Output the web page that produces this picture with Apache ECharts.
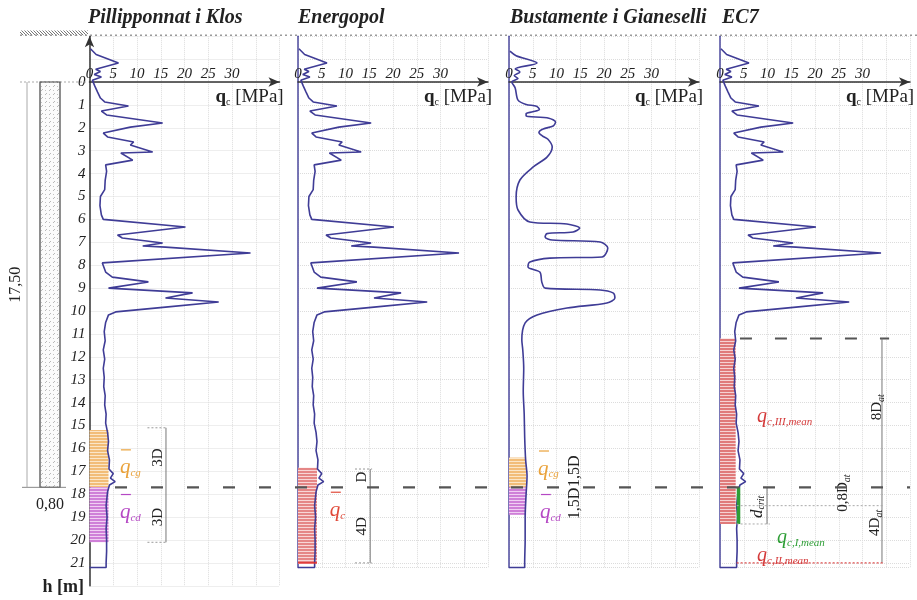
<!DOCTYPE html>
<html><head><meta charset="utf-8">
<script src="https://cdn.jsdelivr.net/npm/echarts@6/dist/echarts.min.js"></script>
<style>html,body{margin:0;padding:0;background:#fff}#c{width:917px;height:600px}</style>
</head><body><div id="c"></div>
<script>
// ---------------- data ----------------
const panelTitles = ['Pillipponnat i Klos', 'Energopol', 'Bustamente i Gianeselli', 'EC7'];
const depthTicks = [0,1,2,3,4,5,6,7,8,9,10,11,12,13,14,15,16,17,18,19,20,21];
const qcTicks = [0,5,10,15,20,25,30];
// measured CPT profile [qc MPa, depth m]
const qcRaw = [
[0.2,-1.45],[1.4,-1.2],[6.1,-0.83],[1.3,-0.56],[2.3,-0.46],[1.0,-0.33],[2.5,-0.22],[0.6,-0.08],
[1.1,0.17],[1.7,0.44],[2.3,0.70],[3.2,0.87],[8.2,1.05],[2.5,1.27],[3.6,1.44],[15.4,1.79],
[8.6,1.97],[2.9,2.23],[3.8,2.40],[9.3,2.62],[8.6,2.75],[13.3,3.06],[6.6,3.10],[9.1,3.41],[3.4,3.62],
[3.6,3.9],[3.3,4.3],[3.2,4.7],[2.3,5.0],[2.2,5.4],[2.5,5.8],[2.9,6.0],[20.2,6.33],[5.9,6.68],
[6.9,6.81],[15.4,7.03],[11.2,7.16],[16.0,7.21],[33.9,7.47],[2.7,7.90],[3.4,8.30],[4.8,8.52],
[12.4,8.73],[4.0,9.00],[21.7,9.21],[16.0,9.43],[27.2,9.61],[16.0,9.83],[5.5,10.04],[4.0,10.17],
[3.4,10.5],[3.1,10.9],[3.3,11.3],[2.9,11.7],[3.2,12.1],[2.9,12.5],[3.1,12.9],[3.0,13.3],[3.3,13.7],
[3.2,14.1],[3.5,14.5],[3.4,14.9],[3.8,15.3],[4.0,15.7],[3.8,16.1],[4.2,16.5],[4.1,16.9],[5.0,17.1],
[4.4,17.3],[5.4,17.45],[4.2,17.6],[3.8,17.9],[3.5,18.5],[3.7,19.0],[3.5,19.5],[3.6,20.0],[3.6,20.5],
[3.5,21.0],[3.5,21.2],[0,21.2]
];
// smoothed profile (Bustamente i Gianeselli)
const qcSmooth = [
[0.2,-1.35],[1.5,-1.15],[5.9,-0.83],[1.3,-0.57],[2.3,-0.44],[1.1,-0.28],[1.9,-0.15],[0.6,0],
[1.3,0.26],[1.9,0.79],[3.6,0.98],[5.8,1.06],[6.4,1.2],[5.0,1.3],[3.6,1.38],[3.6,1.48],[8.4,1.58],
[9.8,1.75],[9.3,1.92],[7.2,2.05],[6.3,2.2],[7.0,2.35],[8.2,2.5],[9.1,2.84],[8.0,3.28],[5.1,3.71],
[2.3,4.28],[1.5,5.02],[1.9,5.59],[4.4,6.11],[12.2,6.20],[14.9,6.38],[13.5,6.55],[8.0,6.62],[7.6,6.77],
[9.1,6.90],[19.2,6.99],[20.8,7.25],[19.6,7.64],[8.6,7.69],[4.4,7.86],[4.0,8.08],[6.5,8.30],[6.9,8.73],
[7.6,9.00],[19.2,9.08],[21.9,9.21],[22.3,9.43],[20.6,9.65],[12.2,9.87],[5.9,10.17],[3.4,10.52],
[2.7,11.27],[2.9,11.7],[3.1,12.5],[3.0,13.5],[3.2,14.5],[3.3,15.5],[3.5,16.5],[3.8,17.2],[3.6,18.0],
[3.4,19.0],[3.4,20.0],[3.3,21.0],[3.3,21.2],[0,21.2]
];
const tipDepth = 17.7;
const ec7TopDepth = 11.2;
// averaging zones [top depth, bottom depth, qc width]
const p1Bars = [[15.2, 17.7, 4.0], [17.7, 20.1, 4.0]];
const p2Bars = [[16.85, 21.05, 4.0]];
const p3Bars = [[16.4, 17.7, 3.6], [17.7, 18.9, 3.6]];
const p4Bars = [[11.2, 19.3, 3.3]];
const p4Green = [[3.9, 17.7], [3.9, 19.3]];
const pileLengthLabel = '17,50';
const pileDiamLabel = '0,80';

// ---------------- layout ----------------
const PX_M = 22.9, Y0 = 82, yMin = -2;
const panelLeft = [89.5, 298, 509, 720];
const titleLeft = [88, 298, 510, 722];
const yMaxes = [22, 21.2, 21.2, 21.2];
const SERIF = '"Liberation Serif","DejaVu Serif",serif';
const CURVE = '#3f3c96';

function stripes(base, line) {
  const c = document.createElement('canvas'); c.width = 4; c.height = 3;
  const g = c.getContext('2d'); g.fillStyle = base; g.fillRect(0,0,4,3);
  g.fillStyle = line; g.fillRect(0,2,4,1);
  return {image: c, repeat: 'repeat'};
}
function diag(color, bg, size) {
  const c = document.createElement('canvas'); c.width = size; c.height = size;
  const g = c.getContext('2d'); g.fillStyle = bg; g.fillRect(0,0,size,size);
  g.strokeStyle = color; g.lineWidth = 1; g.beginPath(); g.moveTo(0,0); g.lineTo(size,size); g.stroke();
  return {image: c, repeat: 'repeat'};
}
function pileFill() {
  const c = document.createElement('canvas'); c.width = 8; c.height = 8;
  const g = c.getContext('2d'); g.fillStyle = '#fbfbfb'; g.fillRect(0,0,8,8);
  g.strokeStyle = '#b8b8b8'; g.lineWidth = 1; g.beginPath();
  g.moveTo(1,3); g.lineTo(3,1); g.moveTo(5,7); g.lineTo(7,5); g.stroke();
  g.fillStyle = '#c4c4c4'; g.fillRect(5,2,1,1); g.fillRect(1,6,1,1);
  return {image: c, repeat: 'repeat'};
}
const ORANGE = stripes('#f2bd78', '#fbe6c8');
const PURPLE = stripes('#cf7fd8', '#f0cff3');
const RED = stripes('#e58686', '#f8d6d6');
const RED4 = stripes('#e07a7a', '#f6d2d2');

const gridTop = Y0 + yMin * PX_M;
const grids = panelLeft.map((l, i) => ({left: l, width: 190, top: gridTop, height: (yMaxes[i] - yMin) * PX_M, containLabel: false, outerBoundsMode: 'none'}));
grids.push({left: 0, width: 917, top: gridTop, height: (22 - yMin) * PX_M, containLabel: false, outerBoundsMode: 'none'});

const xAxes = panelLeft.map((l, i) => ({
  gridIndex: i, type: 'value', min: 0, max: 40, interval: 5, position: 'top',
  axisLine: {show: true, onZero: true, symbol: ['none', 'arrow'], symbolSize: [7, 11], lineStyle: {color: '#333', width: 1.5}},
  axisTick: {show: false},
  axisLabel: {show: false},
  splitLine: {show: true, lineStyle: {color: '#dcdcdc', type: 'dotted', width: 1}}
}));
xAxes.push({gridIndex: 4, type: 'value', min: 0, max: 917, show: false});

const yAxes = panelLeft.map((l, i) => ({
  gridIndex: i, type: 'value', inverse: true, min: yMin, max: yMaxes[i], interval: 1,
  axisLine: {show: true, onZero: false, symbol: i === 0 ? ['none', 'arrow'] : 'none', symbolSize: [7, 11],
    lineStyle: {color: i === 0 ? '#333' : '#4c4a9e', width: 1.5}},
  axisTick: {show: false},
  axisLabel: {show: i === 0, margin: 4, fontFamily: SERIF, fontStyle: 'italic', fontSize: 15, color: '#222',
    formatter: v => depthTicks.includes(v) ? String(v) : ''},
  splitLine: {show: true, lineStyle: {color: '#dcdcdc', type: 'dotted', width: 1}}
}));
yAxes.push({gridIndex: 4, type: 'value', inverse: true, min: yMin, max: 22, show: false});

function barSeries(i, bars, fills) {
  return {type: 'custom', xAxisIndex: i, yAxisIndex: i, data: bars, z: 1, silent: true,
    encode: {x: 2, y: [0, 1]},
    renderItem: (p, api) => {
      const a = api.coord([0, api.value(0)]);
      const b = api.coord([api.value(2), api.value(1)]);
      return {type: 'rect', shape: {x: a[0], y: a[1], width: b[0] - a[0], height: b[1] - a[1]}, style: {fill: fills[p.dataIndex]}};
    }};
}
function curveSeries(i, data, smooth) {
  return {type: 'line', xAxisIndex: i, yAxisIndex: i, data: data, showSymbol: false, symbol: 'none', clip: false,
    smooth: smooth || false, z: 3, silent: true, lineStyle: {color: CURVE, width: 1.6}};
}
function build(it, api) {
  if (it.line) {
    const a = api.coord(it.line[0]), b = api.coord(it.line[1]);
    return {type: 'line', shape: {x1: a[0], y1: a[1], x2: b[0], y2: b[1]},
      style: {stroke: it.color || '#666', lineWidth: it.w || 1, lineDash: it.dash || null}};
  }
  if (it.rect) {
    const a = api.coord(it.rect[0]), b = api.coord(it.rect[1]);
    return {type: 'rect', shape: {x: a[0], y: a[1], width: b[0] - a[0], height: b[1] - a[1]},
      style: {fill: it.fill, stroke: it.stroke || null, lineWidth: it.w || 1}};
  }
  const a = api.coord(it.at);
  const children = [{type: 'text', x: 0, y: 0, style: {text: it.text, fill: it.color || '#222',
    fontFamily: SERIF, fontSize: it.size || 15, fontStyle: it.italic ? 'italic' : 'normal', fontWeight: it.bold ? 'bold' : 'normal',
    align: it.align || 'left', verticalAlign: 'middle', rich: it.rich || undefined}}];
  if (it.over) children.push({type: 'line', shape: {x1: it.over[0], y1: it.over[2], x2: it.over[1], y2: it.over[2]},
    style: {stroke: it.color || '#222', lineWidth: 1.2}});
  return {type: 'group', x: a[0], y: a[1], rotation: it.rot ? Math.PI / 2 : 0, children: children};
}
function annot(i, items) {
  return {type: 'custom', xAxisIndex: i, yAxisIndex: i, data: [0], z: 5, silent: true, clip: false,
    renderItem: (p, api) => ({type: 'group', children: items.map(it => build(it, api))})};
}
function qLabel(at, sub, color, over, size) {
  return {at: at, color: color, text: '{q|q}{s|' + sub + '}', over: over ? [1, 11, -18] : null,
    rich: {q: {fontFamily: SERIF, fontStyle: 'italic', fontSize: size || 21, fill: color, lineHeight: 22},
      s: {fontFamily: SERIF, fontStyle: 'italic', fontSize: 11, fill: color, verticalAlign: 'bottom', lineHeight: 14}}};
}
function subLabel(at, main, sub, opts) {
  opts = opts || {};
  return {at: at, rot: opts.rot, color: '#222', align: 'center', text: '{m|' + main + '}{s|' + sub + '}',
    rich: {m: {fontFamily: SERIF, fontStyle: opts.italic ? 'italic' : 'normal', fontSize: opts.size || 15, fill: '#222', lineHeight: 18},
      s: {fontFamily: SERIF, fontStyle: 'italic', fontSize: 10, fill: '#222', verticalAlign: 'bottom', lineHeight: 12}}};
}
function axisLabels() {
  const out = qcTicks.map(v => ({at: [v, -0.36], text: String(v), align: 'center', italic: true, size: 15}));
  out.push({at: [26.5, 0.66], align: 'left', text: '{q|q}{c|c}{u| [MPa]}',
    rich: {q: {fontFamily: SERIF, fontWeight: 'bold', fontSize: 19, fill: '#222', lineHeight: 20},
      c: {fontFamily: SERIF, fontSize: 10, fill: '#222', verticalAlign: 'bottom', lineHeight: 13},
      u: {fontFamily: SERIF, fontSize: 19, fill: '#222', lineHeight: 20}}});
  return out;
}
const DOT = [2, 2];
const series = [
  barSeries(0, p1Bars, [ORANGE, PURPLE]),
  barSeries(1, p2Bars, [RED]),
  barSeries(2, p3Bars, [ORANGE, PURPLE]),
  barSeries(3, p4Bars, [RED4]),
  curveSeries(0, qcRaw), curveSeries(1, qcRaw), curveSeries(2, qcSmooth, 0.3), curveSeries(3, qcRaw),
  {type: 'line', xAxisIndex: 3, yAxisIndex: 3, data: p4Green, showSymbol: false, symbol: 'none', z: 4, silent: true,
    lineStyle: {color: '#2e9e36', width: 3.5}},
  annot(0, axisLabels().concat([
    {line: [[16.1, 15.1], [16.1, 20.1]], color: '#777'},
    {line: [[12.2, 15.1], [16.1, 15.1]], color: '#999', dash: DOT},
    {line: [[12.2, 20.1], [16.1, 20.1]], color: '#999', dash: DOT},
    {at: [14.4, 16.4], text: '3D', rot: true, align: 'center', size: 15},
    {at: [14.4, 19.0], text: '3D', rot: true, align: 'center', size: 15},
    qLabel([6.4, 16.85], 'cg', '#eaa23a', true),
    qLabel([6.4, 18.8], 'cd', '#b548c4', true)
  ])),
  annot(1, axisLabels().concat([
    {line: [[0, 21.0], [4.0, 21.0]], color: '#e03030', w: 1.5},
    {line: [[15.2, 16.9], [15.2, 21.0]], color: '#777'},
    {line: [[12.0, 16.9], [15.6, 16.9]], color: '#999', dash: DOT},
    {line: [[12.0, 21.0], [15.6, 21.0]], color: '#999', dash: DOT},
    {at: [13.5, 17.25], text: 'D', rot: true, align: 'center', size: 15},
    {at: [13.5, 19.4], text: '4D', rot: true, align: 'center', size: 15},
    qLabel([6.7, 18.7], 'c', '#e04a3a', true)
  ])),
  annot(2, axisLabels().concat([
    {at: [13.9, 17.0], text: '1,5D', rot: true, align: 'center', size: 16},
    {at: [13.9, 18.4], text: '1,5D', rot: true, align: 'center', size: 16},
    qLabel([6.1, 16.9], 'cg', '#eaa23a', true),
    qLabel([6.5, 18.8], 'cd', '#b548c4', true)
  ])),
  annot(3, axisLabels().concat([
    {line: [[4.2, ec7TopDepth], [35.6, ec7TopDepth]], color: '#555', w: 2.2, dash: [12, 23]},
    {line: [[34.1, ec7TopDepth], [34.1, 21.0]], color: '#777'},
    {line: [[3.5, 21.0], [34.6, 21.0]], color: '#d44', dash: DOT, w: 1.2},
    {line: [[3.5, 18.5], [34.6, 18.5]], color: '#aaa', dash: DOT},
    {line: [[3.5, 19.3], [10.5, 19.3]], color: '#aaa', dash: DOT},
    {line: [[9.9, tipDepth], [9.9, 19.3]], color: '#777'},
    subLabel([33.1, 14.2], '8D', 'at', {rot: true}),
    subLabel([25.9, 17.95], '0,8D', 'at', {rot: true}),
    subLabel([32.7, 19.25], '4D', 'at', {rot: true}),
    subLabel([7.8, 18.55], 'd', 'crit', {rot: true, italic: true, size: 17}),
    qLabel([7.8, 14.6], 'c,III,mean', '#d43a3a', false, 20),
    qLabel([12.0, 19.9], 'c,I,mean', '#2e9e36', false, 20),
    qLabel([7.8, 20.7], 'c,II,mean', '#d43a3a', false, 20)
  ])),
  annot(4, [
    {rect: [[20, -2.25], [88, -2.04]], fill: diag('#777', '#fff', 3)},
    {line: [[20, -2.04], [917, -2.04]], color: '#9a9a9a', dash: [2, 3], w: 1.5},
    {line: [[20, 0], [88, 0]], color: '#aaa', dash: DOT},
    {rect: [[40, 0], [60, tipDepth]], fill: pileFill(), stroke: '#444', w: 1.2},
    {line: [[22, tipDepth], [66, tipDepth]], color: '#888'},
    {line: [[27, 0], [27, tipDepth]], color: '#aaa'},
    {at: [16, tipDepth / 2], text: pileLengthLabel, rot: true, align: 'center', size: 16},
    {at: [50, 18.45], text: pileDiamLabel, align: 'center', size: 16},
    {at: [84, 22.05], text: 'h [m]', align: 'right', size: 18, bold: true},
    {line: [[115, tipDepth], [910, tipDepth]], color: '#555', w: 2.2, dash: [12, 24]}
  ])
];

const chart = echarts.init(document.getElementById('c'), null, {renderer: 'canvas'});
chart.setOption({
  animation: false,
  backgroundColor: '#fff',
  title: panelTitles.map((t, i) => ({text: t, left: titleLeft[i], top: 8, padding: 0,
    textStyle: {fontFamily: SERIF, fontStyle: 'italic', fontWeight: 'bold', fontSize: 20, color: '#222'}})),
  grid: grids,
  xAxis: xAxes,
  yAxis: yAxes,
  series: series
});
</script>
</body></html>
